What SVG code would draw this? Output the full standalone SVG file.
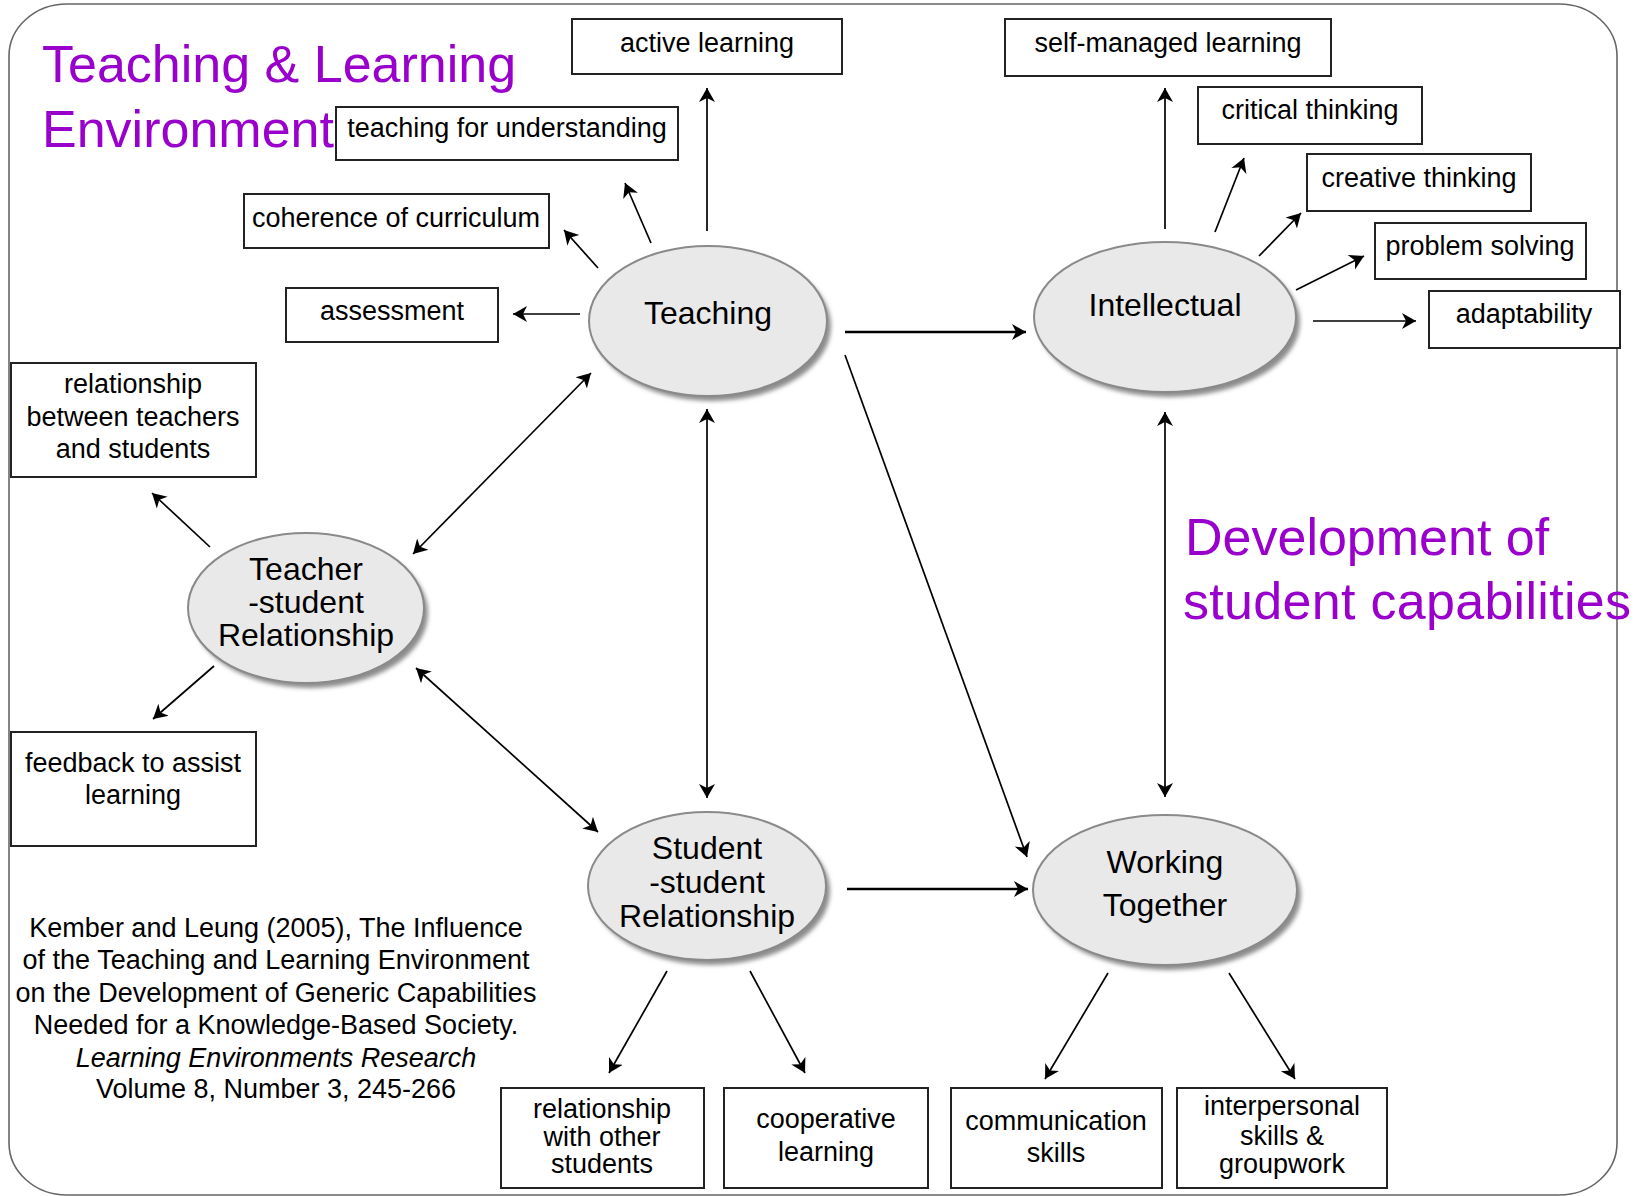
<svg xmlns="http://www.w3.org/2000/svg" width="1642" height="1196" viewBox="0 0 1642 1196">
<style>
text{font-family:"Liberation Sans",Arial,sans-serif;fill:#000}
.bx{fill:#fff;stroke:#222;stroke-width:2}
.bl{font-size:27px;text-anchor:middle}
.el{fill:#e9e9e9;stroke:#8a8a8a;stroke-width:2}
.sh{fill:#8c8c8c;filter:url(#blur)}
.et{font-size:32px;text-anchor:middle}
.pt{font-size:52px;fill:#9900cc}
.ln{stroke:#000;stroke-width:1.7;fill:none;marker-end:url(#ah)}
.dl{stroke:#000;stroke-width:1.7;fill:none;marker-end:url(#ah);marker-start:url(#ah)}
.tk{stroke-width:2.4}
.ct{font-size:27px;text-anchor:middle}
</style>
<defs>
<filter id="blur" x="-10%" y="-10%" width="120%" height="120%"><feGaussianBlur stdDeviation="2"/></filter>
<marker id="ah" markerUnits="userSpaceOnUse" markerWidth="16" markerHeight="18" refX="14" refY="8" orient="auto-start-reverse" viewBox="0 0 16 16">
<path d="M0,0 L14,8 L0,16 L4,8 Z" fill="#000"/>
</marker>
</defs>
<rect x="9" y="4" width="1608" height="1191" rx="58" ry="52" fill="none" stroke="#666" stroke-width="1.6"/>
<g id="title">
<text class="pt" x="42" y="82">Teaching &amp; Learning</text>
<text class="pt" x="42" y="147">Environment</text>
</g>
<g id="subtitle">
<text class="pt" x="1185" y="555">Development of</text>
<text class="pt" x="1183" y="619" letter-spacing="0.3">student capabilities</text>
</g>
<g id="connectors">
<line class="ln" x1="707" y1="231" x2="707" y2="88"/>
<line class="ln" x1="651" y1="243" x2="625" y2="183"/>
<line class="ln" x1="598" y1="268" x2="564" y2="230"/>
<line class="ln" x1="580" y1="314" x2="513" y2="314"/>
<line class="ln tk" x1="845" y1="332" x2="1026" y2="332"/>
<line class="ln" x1="845" y1="355" x2="1027" y2="857"/>
<line class="dl" x1="707" y1="409" x2="707" y2="798"/>
<line class="dl" x1="591" y1="373" x2="413" y2="554"/>
<line class="dl" x1="416" y1="668" x2="598" y2="832"/>
<line class="ln" x1="210" y1="547" x2="152" y2="493"/>
<line class="ln" x1="214" y1="666" x2="153" y2="719"/>
<line class="ln" x1="1165" y1="229" x2="1165" y2="88"/>
<line class="ln" x1="1215" y1="232" x2="1244" y2="158"/>
<line class="ln" x1="1259" y1="256" x2="1301" y2="213"/>
<line class="ln" x1="1296" y1="290" x2="1364" y2="256"/>
<line class="ln" x1="1313" y1="321" x2="1416" y2="321"/>
<line class="dl" x1="1165" y1="412" x2="1165" y2="797"/>
<line class="ln tk" x1="847" y1="889" x2="1028" y2="889"/>
<line class="ln" x1="667" y1="971" x2="609" y2="1073"/>
<line class="ln" x1="750" y1="971" x2="805" y2="1073"/>
<line class="ln" x1="1108" y1="973" x2="1045" y2="1079"/>
<line class="ln" x1="1229" y1="973" x2="1295" y2="1079"/>
</g>
<g id="n-teaching">
<ellipse class="sh" cx="712" cy="326" rx="119" ry="75"/>
<ellipse class="el" cx="708" cy="321" rx="119" ry="75"/>
<text class="et" x="708" y="324">Teaching</text>
</g>
<g id="n-intellectual">
<ellipse class="sh" cx="1169" cy="322" rx="131" ry="75"/>
<ellipse class="el" cx="1165" cy="317" rx="131" ry="75"/>
<text class="et" x="1165" y="316">Intellectual</text>
</g>
<g id="n-teacher-student">
<ellipse class="sh" cx="310" cy="613" rx="118" ry="75"/>
<ellipse class="el" cx="306" cy="608" rx="118" ry="75"/>
<text class="et" x="306" y="580">Teacher</text>
<text class="et" x="306" y="613">-student</text>
<text class="et" x="306" y="646">Relationship</text>
</g>
<g id="n-student-student">
<ellipse class="sh" cx="711" cy="891" rx="119" ry="74"/>
<ellipse class="el" cx="707" cy="886" rx="119" ry="74"/>
<text class="et" x="707" y="859">Student</text>
<text class="et" x="707" y="893">-student</text>
<text class="et" x="707" y="927">Relationship</text>
</g>
<g id="n-working">
<ellipse class="sh" cx="1169" cy="895" rx="132" ry="75"/>
<ellipse class="el" cx="1165" cy="890" rx="132" ry="75"/>
<text class="et" x="1165" y="873">Working</text>
<text class="et" x="1165" y="916">Together</text>
</g>
<g id="b-active"><rect class="bx" x="572" y="19" width="270" height="55"/><text class="bl" x="707" y="52">active learning</text></g>
<g id="b-tfu"><rect class="bx" x="336" y="107" width="342" height="53"/><text class="bl" x="507" y="137">teaching for understanding</text></g>
<g id="b-coh"><rect class="bx" x="244" y="194" width="305" height="54"/><text class="bl" x="396" y="227">coherence of curriculum</text></g>
<g id="b-assess"><rect class="bx" x="286" y="288" width="212" height="54"/><text class="bl" x="392" y="320">assessment</text></g>
<g id="b-self"><rect class="bx" x="1005" y="19" width="326" height="57"/><text class="bl" x="1168" y="52">self-managed learning</text></g>
<g id="b-crit"><rect class="bx" x="1198" y="87" width="224" height="57"/><text class="bl" x="1310" y="119">critical thinking</text></g>
<g id="b-creat"><rect class="bx" x="1307" y="154" width="224" height="57"/><text class="bl" x="1419" y="187">creative thinking</text></g>
<g id="b-prob"><rect class="bx" x="1375" y="223" width="211" height="56"/><text class="bl" x="1480" y="255">problem solving</text></g>
<g id="b-adapt"><rect class="bx" x="1429" y="291" width="191" height="57"/><text class="bl" x="1524" y="323">adaptability</text></g>
<g id="b-rts"><rect class="bx" x="11" y="363" width="245" height="114"/><text class="bl" x="133" y="393">relationship</text><text class="bl" x="133" y="426">between teachers</text><text class="bl" x="133" y="458">and students</text></g>
<g id="b-feed"><rect class="bx" x="11" y="732" width="245" height="114"/><text class="bl" x="133" y="772">feedback to assist</text><text class="bl" x="133" y="804">learning</text></g>
<g id="b-rwos"><rect class="bx" x="501" y="1088" width="203" height="100"/><text class="bl" x="602" y="1118">relationship</text><text class="bl" x="602" y="1146">with other</text><text class="bl" x="602" y="1173">students</text></g>
<g id="b-coop"><rect class="bx" x="724" y="1088" width="204" height="100"/><text class="bl" x="826" y="1128">cooperative</text><text class="bl" x="826" y="1161">learning</text></g>
<g id="b-comm"><rect class="bx" x="951" y="1088" width="211" height="100"/><text class="bl" x="1056" y="1130">communication</text><text class="bl" x="1056" y="1162">skills</text></g>
<g id="b-inter"><rect class="bx" x="1177" y="1088" width="210" height="100"/><text class="bl" x="1282" y="1115">interpersonal</text><text class="bl" x="1282" y="1145">skills &amp;</text><text class="bl" x="1282" y="1173">groupwork</text></g>
<g id="citation">
<text class="ct" x="276" y="937">Kember and Leung (2005), The Influence</text>
<text class="ct" x="276" y="969">of the Teaching and Learning Environment</text>
<text class="ct" x="276" y="1002">on the Development of Generic Capabilities</text>
<text class="ct" x="276" y="1034">Needed for a Knowledge-Based Society.</text>
<text class="ct" x="276" y="1067" font-style="italic">Learning Environments Research</text>
<text class="ct" x="276" y="1098">Volume 8, Number 3, 245-266</text>
</g>
</svg>
